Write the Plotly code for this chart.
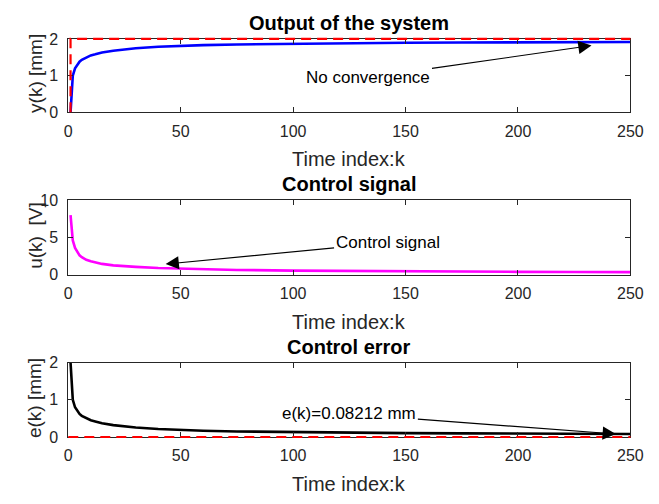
import plotly.graph_objects as go

# Sample instants k and the recorded responses
k = [1, 2, 3, 4, 5, 6, 8, 10, 12, 15, 20, 25, 30, 40, 50, 60, 75, 100,
     125, 150, 175, 200, 225, 250]
y_out = [0.0, 1.0, 1.2, 1.31, 1.38, 1.43, 1.5, 1.55, 1.58, 1.63, 1.68, 1.72,
         1.745, 1.785, 1.81, 1.83, 1.85, 1.87, 1.885, 1.895, 1.902, 1.908,
         1.913, 1.91788]
u_ctrl = [8.0, 4.6, 3.6, 3.0, 2.6, 2.35, 2.0, 1.8, 1.65, 1.45, 1.25, 1.12,
          1.05, 0.9, 0.8, 0.72, 0.64, 0.55, 0.49, 0.45, 0.41, 0.38, 0.36, 0.34]
e_err = [2.0, 1.0, 0.8, 0.69, 0.62, 0.57, 0.5, 0.45, 0.42, 0.37, 0.32, 0.28,
         0.255, 0.215, 0.19, 0.17, 0.15, 0.13, 0.115, 0.105, 0.098, 0.092,
         0.087, 0.08212]

# Reference set-point (step to 2 mm) and zero-error line
ref_k = [1, 1, 250]
ref_v = [0, 2, 2]
zero_k = [0, 250]
zero_v = [0, 0]

x_range = [0, 250]
x_ticks = [0, 50, 100, 150, 200, 250]
y1_range, y1_ticks = [0, 2], [0, 1, 2]
y2_range, y2_ticks = [0, 10], [0, 5, 10]
y3_range, y3_ticks = [0, 2], [0, 1, 2]

titles = ["Output of the system", "Control signal", "Control error"]
y_labels = ["y(k) [mm]", "u(k)  [V]", "e(k) [mm]"]
x_label = "Time index:k"

W, H = 659, 504
AX = "#262626"
FONT = "Liberation Sans, Arial, sans-serif"
DASH = "10px,6px"

# axes boxes in pixels: left/right and rows (top, bottom)
X_L, X_R = 66, 643
rows = [(32, 108), (199, 276), (367, 444)]
PAD = 5  # extra pixels for the unclipped dashed-line layers


def padded(rng, lo_px, hi_px):
    """Range of a hidden axis that maps data exactly like the visible one
    but extends PAD pixels beyond the box, so lines lying on the border
    are not cut in half."""
    per_px = (rng[1] - rng[0]) / (hi_px - lo_px)
    return [rng[0] - PAD * per_px, rng[1] + PAD * per_px]


fig = go.Figure()

fig.add_trace(go.Scatter(x=k, y=y_out, mode="lines",
                         line=dict(color="#0000ff", width=2.6),
                         xaxis="x", yaxis="y"))
fig.add_trace(go.Scatter(x=k, y=u_ctrl, mode="lines",
                         line=dict(color="#ff00ff", width=2.6),
                         xaxis="x2", yaxis="y2"))
fig.add_trace(go.Scatter(x=k, y=e_err, mode="lines",
                         line=dict(color="#000000", width=2.6),
                         xaxis="x3", yaxis="y3"))
fig.add_trace(go.Scatter(x=ref_k, y=ref_v, mode="lines",
                         line=dict(color="#ff0000", width=2.2, dash=DASH),
                         xaxis="x4", yaxis="y4"))
fig.add_trace(go.Scatter(x=zero_k, y=zero_v, mode="lines",
                         line=dict(color="#ff0000", width=2.2, dash=DASH),
                         xaxis="x5", yaxis="y5"))


def xaxis_cfg(anchor):
    return dict(domain=[X_L / W, X_R / W], range=x_range, tickvals=x_ticks,
                ticks="inside", ticklen=5, tickcolor=AX, showline=True,
                linecolor=AX, linewidth=1, mirror="ticks", showgrid=False,
                zeroline=False, anchor=anchor, ticklabelstandoff=4,
                tickfont=dict(family=FONT, size=16, color=AX))


def yaxis_cfg(row, rng, ticks, anchor):
    top, bot = row
    return dict(domain=[(H - bot) / H, (H - top) / H], range=rng,
                tickvals=ticks, ticks="inside", ticklen=5, tickcolor=AX,
                showline=True, linecolor=AX, linewidth=1, mirror="ticks",
                showgrid=False, zeroline=False, anchor=anchor,
                ticklabelstandoff=6,
                tickfont=dict(family=FONT, size=16, color=AX))


def hidden_x(anchor):
    return dict(domain=[(X_L - PAD) / W, (X_R + PAD) / W],
                range=padded(x_range, X_L, X_R), visible=False,
                anchor=anchor)


def hidden_y(row, rng, anchor):
    top, bot = row
    return dict(domain=[(H - bot - PAD) / H, (H - top + PAD) / H],
                range=padded(rng, top, bot), visible=False, anchor=anchor)


fig.update_layout(
    width=W, height=H, margin=dict(l=0, r=0, t=0, b=0),
    paper_bgcolor="white", plot_bgcolor="rgba(0,0,0,0)", showlegend=False,
    xaxis=xaxis_cfg("y"), yaxis=yaxis_cfg(rows[0], y1_range, y1_ticks, "x"),
    xaxis2=xaxis_cfg("y2"),
    yaxis2=yaxis_cfg(rows[1], y2_range, y2_ticks, "x2"),
    xaxis3=xaxis_cfg("y3"),
    yaxis3=yaxis_cfg(rows[2], y3_range, y3_ticks, "x3"),
    xaxis4=hidden_x("y4"), yaxis4=hidden_y(rows[0], y1_range, "x4"),
    xaxis5=hidden_x("y5"), yaxis5=hidden_y(rows[2], y3_range, "x5"),
)

ann = []
suffix = ["", "2", "3"]
for i in range(3):
    s = suffix[i]
    ann.append(dict(text="<b>%s</b>" % titles[i], xref="x%s domain" % s,
                    yref="y%s domain" % s, x=0.5, y=1, yanchor="middle",
                    yshift=16, showarrow=False,
                    font=dict(family=FONT, size=20, color="#000000")))
    ann.append(dict(text=x_label, xref="x%s domain" % s,
                    yref="y%s domain" % s, x=0.5, y=0, yanchor="middle",
                    yshift=-47, showarrow=False,
                    font=dict(family=FONT, size=20, color=AX)))
    ann.append(dict(text=y_labels[i], xref="x%s domain" % s,
                    yref="y%s domain" % s, x=0, y=0.5, xanchor="center",
                    yanchor="middle", xshift=-33, yshift=2, textangle=-90,
                    showarrow=False,
                    font=dict(family=FONT, size=19, color=AX)))

arrow_style = dict(showarrow=True, arrowhead=2, arrowsize=2.4, arrowwidth=1.1,
                   arrowcolor="#000000",
                   font=dict(family=FONT, size=17, color="#000000"))
ann.append(dict(text="No convergence", x=232.7, y=1.82, ax=133.5, ay=0.95,
                xref="x", yref="y", axref="x", ayref="y", **arrow_style))
ann.append(dict(text="Control signal", x=43.3, y=1.43, ax=142, ay=4.29,
                xref="x2", yref="y2", axref="x2", ayref="y2", **arrow_style))
ann.append(dict(text="e(k)=0.08212 mm", x=243.5, y=0.08, ax=125, ay=0.62,
                xref="x3", yref="y3", axref="x3", ayref="y3", **arrow_style))

fig.update_layout(annotations=ann)

fig.write_html("out.html")
